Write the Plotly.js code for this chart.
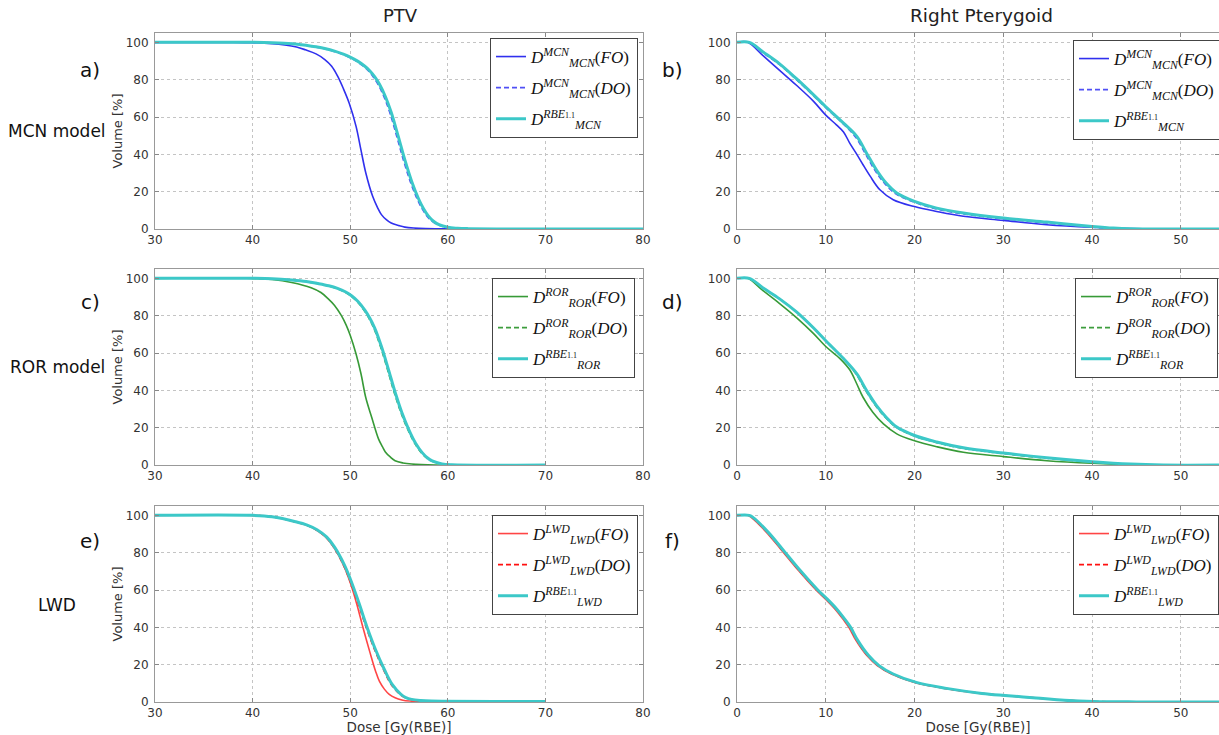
<!DOCTYPE html>
<html>
<head>
<meta charset="utf-8">
<script src="https://cdn.plot.ly/plotly-3.0.1.min.js"></script>
<style>
  html, body { margin: 0; padding: 0; background: #fff; }
  #chart { width: 1219px; height: 735px; }
</style>
</head>
<body>
<div id="chart"></div>
<script>
// ---------------- DATA ----------------
const columnTitles = ['PTV', 'Right Pterygoid'];
const panelLetters = ['a)', 'b)', 'c)', 'd)', 'e)', 'f)'];
const rowLabels = ['MCN model', 'ROR model', 'LWD'];
const yAxisTitle = 'Volume [%]';
const xAxisTitle = 'Dose [Gy(RBE)]';
const yTicks = [0, 20, 40, 60, 80, 100];
const xTicksPTV = [30, 40, 50, 60, 70, 80];
const xTicksPtery = [0, 10, 20, 30, 40, 50];

// Legend labels
const legendMCN = [
  '<i>D</i><sup><i>MCN</i></sup><sub><i>MCN</i></sub>(<i>FO</i>)',
  '<i>D</i><sup><i>MCN</i></sup><sub><i>MCN</i></sub>(<i>DO</i>)',
  '<i>D</i><sup><i>RBE</i><span style="font-size:8px">1.1</span></sup><sub><i>MCN</i></sub>'
];
const legendROR = [
  '<i>D</i><sup><i>ROR</i></sup><sub><i>ROR</i></sub>(<i>FO</i>)',
  '<i>D</i><sup><i>ROR</i></sup><sub><i>ROR</i></sub>(<i>DO</i>)',
  '<i>D</i><sup><i>RBE</i><span style="font-size:8px">1.1</span></sup><sub><i>ROR</i></sub>'
];
const legendLWD = [
  '<i>D</i><sup><i>LWD</i></sup><sub><i>LWD</i></sub>(<i>FO</i>)',
  '<i>D</i><sup><i>LWD</i></sup><sub><i>LWD</i></sub>(<i>DO</i>)',
  '<i>D</i><sup><i>RBE</i><span style="font-size:8px">1.1</span></sup><sub><i>LWD</i></sub>'
];

// a) PTV, MCN model
const ptvMcnFoDose  = [30, 38, 40, 42, 43.3, 44.5, 45.4, 46.5, 47.4, 48.1, 48.7, 49.3, 49.9, 50.6, 51.1, 51.6, 52.3, 52.8, 53.2, 53.7, 54.2, 55, 55.6, 56.5, 57.7, 60, 65, 80];
const ptvMcnFoVol   = [100, 100, 99.8, 99.3, 98.6, 97.5, 96, 93.8, 90.8, 87.2, 82, 75.2, 67.4, 55, 42.4, 30, 17.5, 11.5, 7.7, 5, 3.2, 1.8, 1, 0.5, 0.2, 0.1, 0, 0];
const ptvMcnDoDose  = [30, 40, 42, 44, 44.85, 46.35, 47.35, 48.25, 49.15, 49.95, 50.65, 51.35, 51.85, 52.35, 52.85, 53.45, 54.05, 54.75, 55.45, 56.15, 56.85, 57.35, 57.85, 58.35, 58.95, 59.85, 60.85, 61.95, 65, 80];
const ptvMcnDoVol   = [100, 100, 99.8, 99.3, 98.7, 97.6, 96.6, 95.3, 93.7, 91.8, 89.8, 87.2, 84.8, 81.6, 77.5, 71, 62.5, 50, 37, 25.5, 16.2, 11, 7, 4.3, 2.3, 0.9, 0.4, 0.2, 0.05, 0];
const ptvMcnRbeDose = [30, 40, 42, 44, 45, 46.5, 47.5, 48.4, 49.3, 50.1, 50.8, 51.5, 52, 52.5, 53, 53.6, 54.2, 54.9, 55.6, 56.3, 57, 57.5, 58, 58.5, 59.1, 60, 61, 62.1, 65, 80];
const ptvMcnRbeVol  = [100, 100, 99.8, 99.3, 98.7, 97.6, 96.6, 95.3, 93.7, 91.8, 89.8, 87.2, 84.8, 81.6, 77.5, 71, 62.5, 50, 37, 25.5, 16.2, 11, 7, 4.3, 2.3, 0.9, 0.4, 0.2, 0.05, 0];

// b) Right Pterygoid, MCN model
const ptMcnFoDose  = [0, 1.2, 2.9, 4.8, 6.7, 8.6, 10, 11.2, 12, 12.7, 13.5, 14.2, 15, 16.1, 17.6, 20, 22.5, 25.5, 30, 34.9, 40, 44.3, 48, 55];
const ptMcnFoVol   = [100, 100, 93, 85, 77, 68.5, 61, 55.8, 52, 46, 40, 34.4, 28.3, 21, 15.7, 12, 9.4, 6.8, 4.6, 2.3, 0.9, 0.2, 0, 0];
const ptMcnDoDose  = [0, 1.4, 2.9, 4.8, 6.7, 8.6, 10, 12, 13.4, 14.5, 15.6, 16.7, 17.9, 20, 22.5, 25.5, 30, 34.9, 40, 42.4, 44.3, 47, 55];
const ptMcnDoVol   = [100, 100, 94.5, 88, 80, 71.5, 65, 56.2, 49, 40, 31, 24, 18.8, 14.3, 10.7, 8.1, 5.4, 3.2, 1.0, 0.3, 0.05, 0, 0];
const ptMcnRbeDose = [0, 1.4, 2.9, 4.8, 6.7, 8.6, 10, 12, 13.5, 14.6, 15.7, 16.8, 18, 20, 22.5, 25.5, 30, 34.9, 40, 42.4, 44.3, 47, 55];
const ptMcnRbeVol  = [100, 100, 95, 88.5, 80.5, 72, 65.5, 56.7, 49.6, 40.6, 31.7, 24.6, 19.3, 14.8, 11.2, 8.6, 5.9, 3.7, 1.4, 0.5, 0.1, 0, 0];

// c) PTV, ROR model
const ptvRorFoDose  = [30, 40, 42, 44, 46, 47, 47.7, 48.4, 49.1, 49.6, 50, 50.6, 51.1, 51.6, 52.2, 52.9, 53.3, 53.6, 54.1, 54.6, 55.4, 56.3, 58.7, 70];
const ptvRorFoVol   = [100, 100, 99.4, 97.8, 95, 92.4, 89.3, 85.5, 80, 74.8, 69.5, 59.5, 49, 36, 25.6, 14, 9.8, 7, 4.3, 2.3, 1.1, 0.5, 0, 0];
const ptvRorDoDose  = [30, 40, 42, 44, 45.4, 46.6, 47.7, 48.6, 49.4, 50.0, 50.7, 51.4, 51.9, 52.4, 53.1, 53.8, 54.5, 55.2, 55.9, 56.6, 57.3, 57.8, 58.3, 59.3, 60.3, 70];
const ptvRorDoVol   = [100, 100, 99.8, 99.1, 98.3, 97.2, 96, 94.6, 92.8, 90.8, 87.6, 83, 78.8, 73.5, 63.5, 51.5, 39, 28, 19, 11.7, 6.5, 3.9, 2.2, 0.6, 0.1, 0];
const ptvRorRbeDose = [30, 40, 42, 44, 45.5, 46.7, 47.8, 48.7, 49.5, 50.1, 50.8, 51.5, 52, 52.5, 53.2, 53.9, 54.6, 55.3, 56, 56.7, 57.4, 57.9, 58.4, 59.4, 60.4, 70];
const ptvRorRbeVol  = [100, 100, 99.8, 99.1, 98.3, 97.2, 96, 94.6, 92.8, 90.8, 87.6, 83, 78.8, 73.5, 63.5, 51.5, 39, 28, 19, 11.7, 6.5, 3.9, 2.2, 0.6, 0.1, 0];

// d) Right Pterygoid, ROR model
const ptRorFoDose  = [0, 1.2, 2.9, 4.8, 6.7, 8.6, 10, 11.6, 12.7, 13.5, 14.2, 15.3, 16.5, 18, 20, 22.5, 25.5, 30, 34.9, 40, 44.3, 48, 55];
const ptRorFoVol   = [100, 100, 93.5, 86.5, 79, 70.5, 63.5, 57, 51, 43.4, 36.3, 28.3, 22, 16.7, 13, 9.8, 6.8, 4.5, 2.3, 0.9, 0.2, 0, 0];
const ptRorDoDose  = [0, 1.4, 2.9, 4.8, 6.7, 8.6, 10, 12, 13.4, 14.5, 15.6, 16.7, 17.9, 20, 22.5, 25.5, 30, 34.9, 40, 44.3, 48, 55];
const ptRorDoVol   = [100, 100, 95, 89, 82, 73.5, 66.6, 57, 48.8, 39.9, 31.9, 25.6, 20.3, 15.5, 12, 8.9, 6.1, 3.6, 1.6, 0.4, 0, 0];
const ptRorRbeDose = [0, 1.4, 2.9, 4.8, 6.7, 8.6, 10, 12, 13.5, 14.6, 15.7, 16.8, 18, 20, 22.5, 25.5, 30, 34.9, 40, 44.3, 48, 55];
const ptRorRbeVol  = [100, 100, 95, 89, 82, 73.5, 66.6, 57, 48.8, 39.9, 31.9, 25.6, 20.3, 15.8, 12.3, 9.2, 6.4, 3.9, 1.8, 0.5, 0, 0];

// e) PTV, LWD
const ptvLwdFoDose  = [30, 40, 42, 44.3, 45.5, 46.5, 47.5, 48.3, 49.3, 50, 50.7, 51.3, 52, 52.6, 53, 53.5, 54, 54.6, 55.3, 56.1, 58, 70];
const ptvLwdFoVol   = [100, 100, 99.2, 96.6, 94.8, 92.3, 88.3, 83, 73.5, 64, 52, 40, 27, 16.5, 11, 6.9, 4.1, 2.3, 1.1, 0.5, 0.2, 0.1];
const ptvLwdDoDose  = [30, 40, 42, 44.3, 45.5, 46.5, 47.5, 48.3, 49.3, 49.9, 50.8, 51.6, 52.5, 53.4, 54.2, 55.1, 55.6, 56.2, 57.1, 58.2, 70];
const ptvLwdDoVol   = [100, 100, 99.2, 96.6, 94.8, 92.3, 88.3, 83, 73.5, 66, 53, 40.5, 28, 17.4, 9.4, 4.1, 2.4, 1.4, 0.8, 0.5, 0.3];
const ptvLwdRbeDose = [30, 40, 42, 44.4, 45.6, 46.6, 47.6, 48.4, 49.4, 50, 50.9, 51.7, 52.6, 53.5, 54.3, 55.2, 55.7, 56.3, 57.2, 58.3, 70];
const ptvLwdRbeVol  = [100, 100, 99.2, 96.6, 94.8, 92.3, 88.3, 83, 73.5, 66, 53, 40.5, 28, 17.4, 9.4, 4.1, 2.4, 1.4, 0.8, 0.5, 0.3];

// f) Right Pterygoid, LWD
const ptLwdFoDose  = [0, 1.2, 1.7, 3.3, 4.9, 7, 8.9, 10, 11, 12, 12.6, 13.4, 14.6, 15.8, 17.4, 20, 23.4, 27.4, 30, 33.5, 36.7, 40, 45, 55];
const ptLwdFoVol   = [100, 100, 98.5, 91, 82, 70, 60, 55, 50, 44, 40, 33, 25, 19.5, 15, 10.5, 7.3, 4.6, 3.5, 2.2, 1, 0.3, 0.05, 0];
const ptLwdDoDose  = [0, 1.3, 1.8, 3.4, 5.0, 7.1, 9.0, 10.1, 11.1, 12.1, 12.7, 13.5, 14.7, 15.9, 17.5, 20.1, 23.5, 27.5, 30.1, 33.6, 36.8, 40.1, 45, 55];
const ptLwdDoVol   = [100, 100, 98.5, 91, 82, 70, 60, 55, 50, 44, 40, 33, 25, 19.5, 15, 10.5, 7.3, 4.6, 3.5, 2.2, 1, 0.3, 0.05, 0];
const ptLwdRbeDose = [0, 1.4, 1.9, 3.5, 5.1, 7.2, 9.1, 10.2, 11.2, 12.2, 12.8, 13.6, 14.8, 16.0, 17.6, 20.2, 23.6, 27.6, 30.2, 33.7, 36.9, 40.2, 45, 55];
const ptLwdRbeVol  = [100, 100, 98.5, 91, 82, 70, 60, 55, 50, 44, 40, 33, 25, 19.5, 15, 10.5, 7.3, 4.6, 3.5, 2.2, 1, 0.3, 0.05, 0];

// ---------------- STYLE ----------------
const styleBlue  = [{color: '#3030ee', width: 1.6, dash: 'solid'}, {color: '#5050f5', width: 1.6, dash: '5px,3px'}, {color: '#3cc8c8', width: 3, dash: 'solid'}];
const styleGreen = [{color: '#379a37', width: 1.6, dash: 'solid'}, {color: '#3d9d3d', width: 1.6, dash: '5px,3px'}, {color: '#3cc8c8', width: 3, dash: 'solid'}];
const styleRed   = [{color: '#ff4545', width: 1.6, dash: 'solid'}, {color: '#ff1010', width: 1.6, dash: '5px,3px'}, {color: '#3cc8c8', width: 3, dash: 'solid'}];

const panels = [
  {xa: 'x',  ya: 'y',  legend: 'legend',  names: legendMCN, style: styleBlue,
   series: [[ptvMcnFoDose, ptvMcnFoVol], [ptvMcnDoDose, ptvMcnDoVol], [ptvMcnRbeDose, ptvMcnRbeVol]]},
  {xa: 'x2', ya: 'y2', legend: 'legend2', names: legendMCN, style: styleBlue,
   series: [[ptMcnFoDose, ptMcnFoVol], [ptMcnDoDose, ptMcnDoVol], [ptMcnRbeDose, ptMcnRbeVol]]},
  {xa: 'x3', ya: 'y3', legend: 'legend3', names: legendROR, style: styleGreen,
   series: [[ptvRorFoDose, ptvRorFoVol], [ptvRorDoDose, ptvRorDoVol], [ptvRorRbeDose, ptvRorRbeVol]]},
  {xa: 'x4', ya: 'y4', legend: 'legend4', names: legendROR, style: styleGreen,
   series: [[ptRorFoDose, ptRorFoVol], [ptRorDoDose, ptRorDoVol], [ptRorRbeDose, ptRorRbeVol]]},
  {xa: 'x5', ya: 'y5', legend: 'legend5', names: legendLWD, style: styleRed,
   series: [[ptvLwdFoDose, ptvLwdFoVol], [ptvLwdDoDose, ptvLwdDoVol], [ptvLwdRbeDose, ptvLwdRbeVol]]},
  {xa: 'x6', ya: 'y6', legend: 'legend6', names: legendLWD, style: styleRed,
   series: [[ptLwdFoDose, ptLwdFoVol], [ptLwdDoDose, ptLwdDoVol], [ptLwdRbeDose, ptLwdRbeVol]]}
];

const traces = [];
panels.forEach((p, pi) => {
  p.series.forEach((s, i) => {
    traces.push({
      type: 'scatter', mode: 'lines',
      x: s[0], y: s[1],
      xaxis: p.xa, yaxis: p.ya, legend: p.legend,
      legendgroup: 'g' + pi + '_' + i,
      name: p.names[i],
      line: {color: p.style[i].color, width: p.style[i].width, dash: p.style[i].dash, shape: 'spline', smoothing: 1},
      showlegend: true
    });
  });
});

// ---------------- LAYOUT ----------------
const W = 1219, H = 735;
const colX = [[155 / W, 643 / W], [737 / W, 1]];
const rowY = [[1 - 229 / H, 1 - 33 / H], [1 - 465 / H, 1 - 269 / H], [1 - 702 / H, 1 - 506 / H]];
const tickFont = {family: 'DejaVu Sans', size: 12, color: '#333'};

function xAxis(col, row, anchor) {
  const ax = {
    domain: colX[col], anchor: anchor,
    range: col === 0 ? [30, 80] : [0, 54.3],
    tickvals: col === 0 ? xTicksPTV : xTicksPtery,
    ticks: 'inside', ticklen: 4, tickcolor: '#888', tickwidth: 1,
    showline: true, linecolor: '#999', linewidth: 1, mirror: 'ticks',
    showgrid: true, gridcolor: '#c4c4c4', griddash: 'dot', gridwidth: 1,
    zeroline: false, tickfont: tickFont, ticklabelstandoff: 0, fixedrange: true
  };
  if (row === 2) ax.title = {text: xAxisTitle, font: {family: 'DejaVu Sans', size: 13.5, color: '#333'}, standoff: 2};
  return ax;
}
function yAxis(col, row, anchor) {
  const ax = {
    domain: rowY[row], anchor: anchor,
    range: [0, 105], tickvals: yTicks,
    ticks: 'inside', ticklen: 4, tickcolor: '#888', tickwidth: 1,
    showline: true, linecolor: '#999', linewidth: 1, mirror: 'ticks',
    showgrid: true, gridcolor: '#c4c4c4', griddash: 'dot', gridwidth: 1,
    zeroline: false, tickfont: tickFont, ticklabelstandoff: 3, fixedrange: true
  };
  if (col === 0) ax.title = {text: yAxisTitle, font: {family: 'DejaVu Sans', size: 13, color: '#333'}, standoff: 0};
  return ax;
}

const legendPos = [[490, 38], [1073, 40], [492, 278], [1075, 278], [492, 515], [1073, 515]];
function legendCfg(i) {
  return {
    x: legendPos[i][0] / W, y: 1 - legendPos[i][1] / H, xanchor: 'left', yanchor: 'top',
    xref: 'paper', yref: 'paper',
    bgcolor: '#ffffff', bordercolor: '#444', borderwidth: 1,
    font: {family: 'Liberation Serif', size: 17, color: '#111'},
    tracegroupgap: 6, itemclick: false, itemdoubleclick: false
  };
}

const annotations = [];
annotations.push({text: columnTitles[0], x: 400 / W, y: 1 - 15 / H, xref: 'paper', yref: 'paper', showarrow: false,
  font: {family: 'DejaVu Sans', size: 18, color: '#222'}, xanchor: 'center', yanchor: 'middle'});
annotations.push({text: columnTitles[1], x: 981 / W, y: 1 - 15 / H, xref: 'paper', yref: 'paper', showarrow: false,
  font: {family: 'DejaVu Sans', size: 18.5, color: '#222'}, xanchor: 'center', yanchor: 'middle'});
const letterPos = [[90, 70], [672, 70], [90, 302], [672, 302], [90, 541], [672, 541]];
panelLetters.forEach((t, i) => {
  annotations.push({text: t, x: letterPos[i][0] / W, y: 1 - letterPos[i][1] / H, xref: 'paper', yref: 'paper',
    showarrow: false, font: {family: 'DejaVu Sans', size: 20, color: '#111'}, xanchor: 'center', yanchor: 'middle'});
});
const rowLabelY = [131, 367, 605];
rowLabels.forEach((t, i) => {
  annotations.push({text: t, x: 57 / W, y: 1 - rowLabelY[i] / H, xref: 'paper', yref: 'paper',
    showarrow: false, font: {family: 'DejaVu Sans', size: 17, color: '#111'}, xanchor: 'center', yanchor: 'middle'});
});

const layout = {
  width: W, height: H,
  margin: {l: 0, r: 0, t: 0, b: 0, autoexpand: false},
  paper_bgcolor: '#ffffff', plot_bgcolor: '#ffffff',
  showlegend: true,
  xaxis:  xAxis(0, 0, 'y'),  yaxis:  yAxis(0, 0, 'x'),
  xaxis2: xAxis(1, 0, 'y2'), yaxis2: yAxis(1, 0, 'x2'),
  xaxis3: xAxis(0, 1, 'y3'), yaxis3: yAxis(0, 1, 'x3'),
  xaxis4: xAxis(1, 1, 'y4'), yaxis4: yAxis(1, 1, 'x4'),
  xaxis5: xAxis(0, 2, 'y5'), yaxis5: yAxis(0, 2, 'x5'),
  xaxis6: xAxis(1, 2, 'y6'), yaxis6: yAxis(1, 2, 'x6'),
  legend: legendCfg(0), legend2: legendCfg(1), legend3: legendCfg(2),
  legend4: legendCfg(3), legend5: legendCfg(4), legend6: legendCfg(5),
  annotations: annotations
};

Plotly.newPlot('chart', traces, layout, {staticPlot: true, displayModeBar: false});
</script>
</body>
</html>
